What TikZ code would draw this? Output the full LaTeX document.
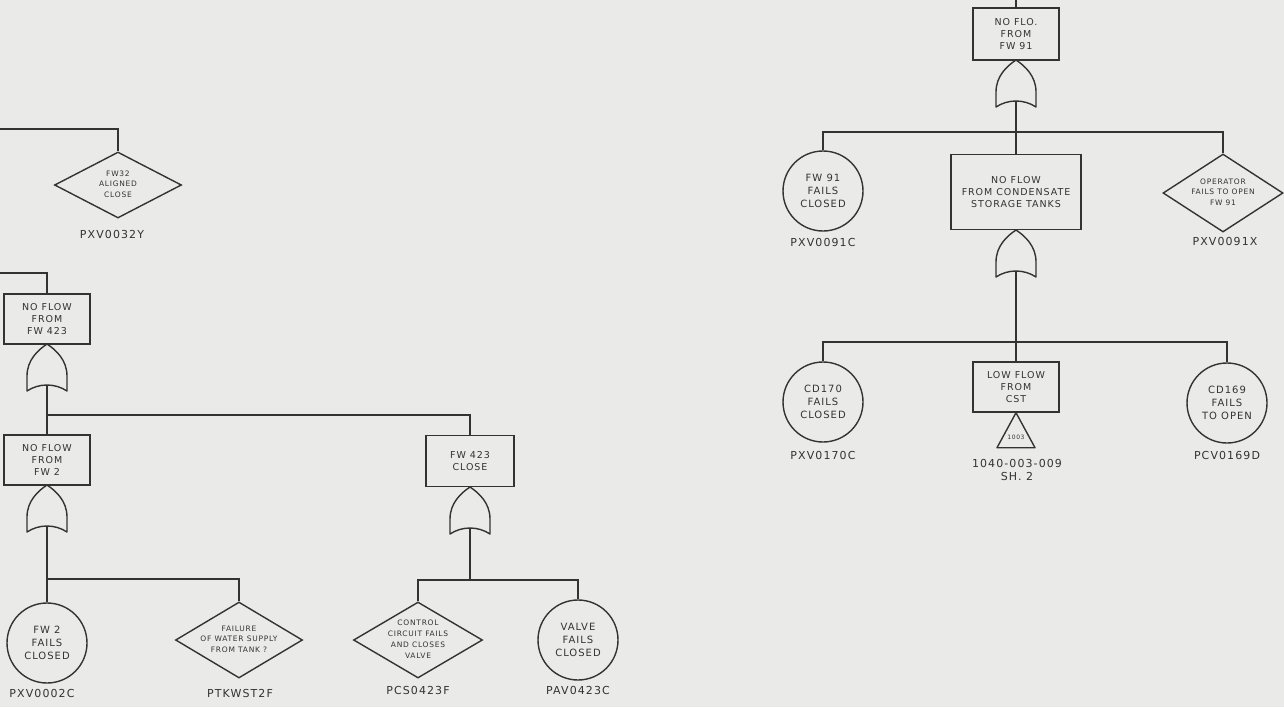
\documentclass[tikz,border=0pt]{standalone}
\usepackage{fontspec}
\newfontfamily\hw[LetterSpace=10]{DejaVu Sans}
\usetikzlibrary{shapes.geometric}
\definecolor{bg}{HTML}{EAEAE8}
\definecolor{ink}{HTML}{333333}
\newcommand{\ztext}[1]{\smash{\raisebox{-1.5pt}{\makebox[0pt]{\begin{tabular}{@{}c@{}}#1\end{tabular}}}}}
\tikzset{
  ln/.style={draw=ink, line width=1.4pt},
  evbox/.style={ln, rectangle, minimum width=86pt, minimum height=50pt, inner sep=1pt, align=center, font=\hw\fontsize{9.5}{12}\selectfont, text=ink},
  basic/.style={ln, circle, minimum size=80pt, inner sep=0pt, align=center, font=\hw\fontsize{10}{13}\selectfont, text=ink},
  undev/.style={ln, diamond, minimum width=127pt, minimum height=72pt, inner sep=0pt, font=\hw\fontsize{7.5}{9.5}\selectfont\renewcommand{\arraystretch}{1.15}, text=ink},
  lbl/.style={font=\hw\fontsize{11}{13}\selectfont, text=ink, inner sep=1pt, align=center},
  orgate/.pic={
    \draw[ln, line join=round] (0,0) .. controls (9,6) and (20,16) .. (20,32) -- (20,47)
      .. controls (8,39) and (-8,39) .. (-20,47) -- (-20,32)
      .. controls (-20,16) and (-9,6) .. (0,0) -- cycle;
    \coordinate (-out) at (0,41);
  }
}
\begin{document}
\begin{tikzpicture}[x=1pt, y=-1pt]
\useasboundingbox (0,0) rectangle (1284,707);
\fill[bg] (0,0) rectangle (1284,707);

% ---------- left part ----------
\node[undev, minimum height=66pt] (d32) at (118,185) {\ztext{FW32\\ALIGNED\\CLOSE}};
\node[lbl] (l32) at (112,234) {PXV0032Y};
\coordinate (e0) at (0,129);
\draw[ln] (e0) -| (d32.north);

\node[evbox] (b423) at (47,319) {NO FLOW\\FROM\\FW 423};
\coordinate (e1) at (0,273);
\draw[ln] (e1) -| (b423.north);
\pic (g1) at (47,344) {orgate};

\coordinate (j1) at (47,415);
\node[evbox] (bfw2) at (47,460) {NO FLOW\\FROM\\FW 2};
\node[evbox, minimum width=88pt, minimum height=51pt] (b423c) at (470,461) {FW 423\\CLOSE};
\draw[ln] (g1-out) -- (j1) -- (bfw2.north);
\draw[ln] (j1) -| (b423c.north);

\pic (g2) at (47,485) {orgate};
\coordinate (j2) at (47,579);
\node[basic] (cfw2) at (47,643) {FW 2\\FAILS\\CLOSED};
\node[undev, minimum height=76pt] (dtank) at (239,640) {\ztext{FAILURE\\OF WATER SUPPLY\\FROM TANK ?}};
\draw[ln] (g2-out) -- (j2) -- (cfw2.north);
\draw[ln] (j2) -| (dtank.north);
\node[lbl] (l2c) at (42,693) {PXV0002C};
\node[lbl] (ltk) at (240,693) {PTKWST2F};

\pic (g3) at (470,487) {orgate};
\coordinate (j3) at (470,580);
\node[undev, minimum width=129pt, minimum height=76pt] (dctl) at (418,640) {\ztext{CONTROL\\CIRCUIT FAILS\\AND CLOSES\\VALVE}};
\node[basic] (cval) at (578,640) {VALVE\\FAILS\\CLOSED};
\draw[ln] (g3-out) -- (j3);
\draw[ln] (dctl.north) |- (j3) -| (cval.north);
\node[lbl] (lcs) at (418,690) {PCS0423F};
\node[lbl] (lav) at (578,690) {PAV0423C};

% ---------- right part ----------
\node[evbox, minimum height=52pt] (b91) at (1016,34) {NO FLO.\\FROM\\FW 91};
\coordinate (e2) at (1016,0);
\draw[ln] (e2) -- (b91.north);
\pic (g4) at (1016,60) {orgate};
\coordinate (j4) at (1016,132);
\node[basic] (c91) at (823,191) {FW 91\\FAILS\\CLOSED};
\node[evbox, minimum width=130pt, minimum height=75pt] (bcst) at (1016,192) {NO FLOW\\FROM CONDENSATE\\STORAGE TANKS};
\node[undev, minimum width=120pt, minimum height=78pt] (dop) at (1223,193) {\ztext{OPERATOR\\FAILS TO OPEN\\FW 91}};
\draw[ln] (g4-out) -- (j4) -- (bcst.north);
\draw[ln] (c91.north) |- (j4) -| (dop.north);
\node[lbl] (l91c) at (823,242) {PXV0091C};
\node[lbl] (l91x) at (1225,241) {PXV0091X};

\pic (g5) at (1016,230) {orgate};
\coordinate (j5) at (1016,342);
\node[basic] (c170) at (823,402) {CD170\\FAILS\\CLOSED};
\node[evbox] (blow) at (1016,387) {LOW FLOW\\FROM\\CST};
\node[basic] (c169) at (1227,403) {CD169\\FAILS\\TO OPEN};
\draw[ln] (g5-out) -- (j5) -- (blow.north);
\draw[ln] (c170.north) |- (j5) -| (c169.north);
\draw[ln, line join=round] (blow.south) -- ++(-19,35) -- ++(38,0) -- cycle;
\node[font=\hw\fontsize{6}{7}\selectfont, text=ink, inner sep=0pt] (tri) at (1016,437) {1003};
\node[lbl] (l170) at (823,455) {PXV0170C};
\node[lbl] (l169) at (1227,455) {PCV0169D};
\node[lbl] (lref) at (1017,470) {1040-003-009\\SH. 2};
\end{tikzpicture}
\end{document}
